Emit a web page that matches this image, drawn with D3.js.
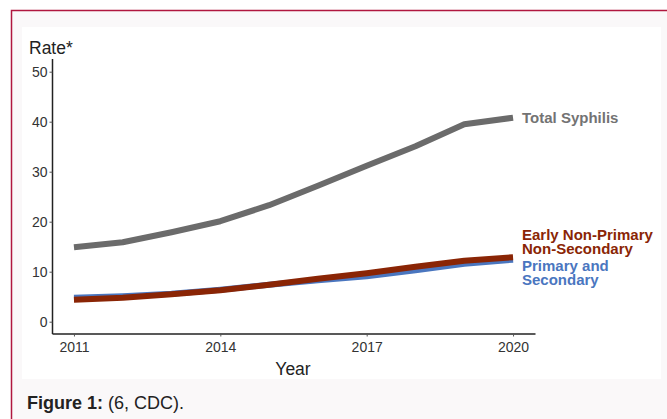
<!DOCTYPE html>
<html>
<head>
<meta charset="utf-8">
<script src="https://cdn.jsdelivr.net/npm/d3@7"></script>
<style>
  html, body { margin: 0; padding: 0; background: #ffffff; }
  body { width: 667px; height: 419px; overflow: hidden; }
  svg { display: block; font-family: 'Liberation Sans', Arial, sans-serif; }
</style>
</head>
<body>
<div id="chart"></div>
<script>
// 数据
const years = [2011, 2012, 2013, 2014, 2015, 2016, 2017, 2018, 2019, 2020]
const totalSyphilis = [14.9, 15.9, 17.9, 20.1, 23.3, 27.2, 31.2, 35.1, 39.5, 40.8]
const primarySecondary = [4.8, 5.1, 5.6, 6.4, 7.4, 8.3, 9.1, 10.3, 11.6, 12.4]
const earlyNonPrimary = [4.4, 4.8, 5.5, 6.3, 7.4, 8.6, 9.7, 11.0, 12.2, 12.9]
const xTicks = [2011, 2014, 2017, 2020]
const yTicks = [0, 10, 20, 30, 40, 50]

const width = 667
const height = 419
const font = "'Liberation Sans', Arial, sans-serif"

const svg = d3.select('#chart')
  .append('svg')
  .attr('width', width)
  .attr('height', height)

// 卡片背景和边框
svg.append('rect')
  .attr('x', 11).attr('y', 11)
  .attr('width', width).attr('height', height)
  .attr('fill', '#faf8f9')
svg.append('path')
  .attr('d', `M11.5,${height} L11.5,10.5 L${width},10.5`)
  .attr('fill', 'none')
  .attr('stroke', '#b0173f')
  .attr('stroke-width', 1.5)

// 白色绘图面板
svg.append('rect')
  .attr('x', 22).attr('y', 27)
  .attr('width', 639).attr('height', 352)
  .attr('fill', '#ffffff')

// 比例尺
const x = d3.scaleLinear().domain([2010.55, 2020.45]).range([52, 535])
const y = d3.scaleLinear().domain([0, 50]).range([321.7, 71.7])

// 坐标轴
const gx = svg.append('g')
  .attr('transform', 'translate(0,333.5)')
  .call(d3.axisBottom(x).tickValues(xTicks).tickFormat(d3.format('d')).tickSize(3).tickSizeOuter(0))
  .attr('font-size', 14)
  .attr('font-family', font)
gx.select('.domain').attr('stroke', '#222').attr('stroke-width', 1.5)
gx.selectAll('.tick line').attr('stroke', '#555')
gx.selectAll('.tick text')
  .attr('fill', '#333')
  .attr('dy', '0.9em')

const gy = svg.append('g')
  .attr('transform', 'translate(52.5,0)')
  .call(d3.axisLeft(y).tickValues(yTicks).tickSize(3).tickSizeOuter(0))
  .attr('font-size', 14)
  .attr('font-family', font)
gy.select('.domain').attr('d', 'M0,59V334').attr('stroke', '#222').attr('stroke-width', 1.5)
gy.selectAll('.tick line').attr('stroke', '#555')
gy.selectAll('.tick text')
  .attr('fill', '#333')
  .attr('x', -5)

// 轴标题
svg.append('text')
  .attr('x', 29).attr('y', 54)
  .attr('fill', '#222')
  .attr('font-size', 17.5)
  .text('Rate*')
svg.append('text')
  .attr('x', 293).attr('y', 375)
  .attr('text-anchor', 'middle')
  .attr('fill', '#222')
  .attr('font-size', 17.5)
  .text('Year')

// 折线
const line = d3.line()
  .x((d, i) => x(years[i]))
  .y(d => y(d))

const series = [
  { values: totalSyphilis, color: '#6b6b6b', w: 6 },
  { values: primarySecondary, color: '#4a76bf', w: 6 },
  { values: earlyNonPrimary, color: '#8a2505', w: 6 }
]
series.forEach(s => {
  svg.append('path')
    .attr('d', line(s.values))
    .attr('fill', 'none')
    .attr('stroke', s.color)
    .attr('stroke-width', s.w)
    .attr('stroke-linejoin', 'round')
})

// 直接标注
const labels = [
  { lines: ['Total Syphilis'], y: 123, color: '#737373' },
  { lines: ['Early Non-Primary', 'Non-Secondary'], y: 240, color: '#8a2505' },
  { lines: ['Primary and', 'Secondary'], y: 270.5, color: '#4a76bf' }
]
labels.forEach(l => {
  const t = svg.append('text')
    .attr('x', 522).attr('y', l.y)
    .attr('fill', l.color)
    .attr('font-size', 15)
    .attr('font-weight', 'bold')
  l.lines.forEach((s, i) => {
    t.append('tspan').attr('x', 522).attr('dy', i === 0 ? 0 : 14).text(s)
  })
})

// 图注
const cap = svg.append('text')
  .attr('x', 27).attr('y', 409)
  .attr('fill', '#222')
  .attr('font-size', 18)
cap.append('tspan').attr('font-weight', 'bold').text('Figure 1:')
cap.append('tspan').text(' (6, CDC).')
</script>
</body>
</html>
